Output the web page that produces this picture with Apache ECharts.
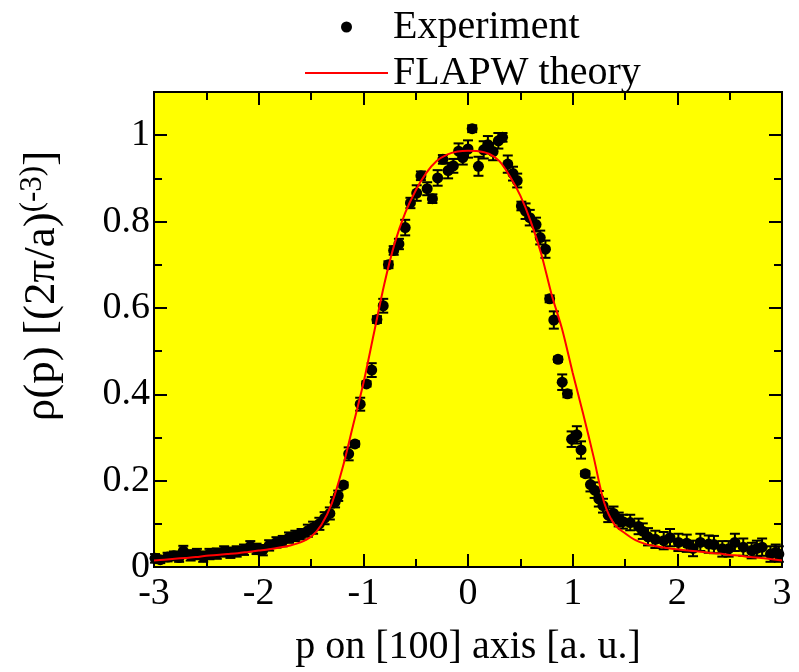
<!DOCTYPE html>
<html>
<head>
<meta charset="utf-8">
<script src="https://cdn.jsdelivr.net/npm/echarts@6/dist/echarts.min.js"></script>
<style>
  html, body { margin: 0; padding: 0; background: #fff; }
  #chart { width: 799px; height: 672px; }
</style>
</head>
<body>
<div id="chart"></div>
<script>
// Measured momentum density along [100]: momentum (a.u.), density, one-sigma error
const pX = [
  -2.99, -2.94, -2.87, -2.81, -2.76, -2.72, -2.65, -2.59, -2.53, -2.47,
  -2.40, -2.33, -2.27, -2.21, -2.14, -2.08, -2.02, -1.96, -1.90, -1.83,
  -1.77, -1.71, -1.65, -1.59, -1.53, -1.48, -1.42, -1.37, -1.32, -1.27,
  -1.24, -1.19, -1.14, -1.08, -1.03, -0.97, -0.92, -0.87, -0.81, -0.76,
  -0.71, -0.66, -0.60, -0.55, -0.49, -0.45, -0.39, -0.34, -0.29, -0.24,
  -0.19, -0.14, -0.09, -0.05, 0.00, 0.04, 0.10, 0.15, 0.19, 0.24,
  0.29, 0.33, 0.38, 0.43, 0.47, 0.51, 0.55, 0.59, 0.65, 0.69,
  0.74, 0.78, 0.82, 0.86, 0.90, 0.95, 0.99, 1.04, 1.08, 1.12,
  1.17, 1.21, 1.25, 1.29, 1.34, 1.39, 1.44, 1.48, 1.55, 1.63,
  1.67, 1.72, 1.79, 1.87, 1.93, 2.01, 2.09, 2.15, 2.22, 2.30,
  2.35, 2.43, 2.49, 2.55, 2.63, 2.71, 2.76, 2.81, 2.89, 2.94, 2.97
];
const rho = [
  0.020, 0.017, 0.023, 0.026, 0.022, 0.037, 0.027, 0.030, 0.024, 0.030,
  0.031, 0.036, 0.033, 0.036, 0.040, 0.048, 0.042, 0.039, 0.050, 0.057,
  0.060, 0.068, 0.072, 0.076, 0.084, 0.091, 0.100, 0.113, 0.124, 0.150,
  0.165, 0.190, 0.262, 0.285, 0.377, 0.424, 0.456, 0.573, 0.605, 0.700,
  0.733, 0.748, 0.786, 0.843, 0.866, 0.906, 0.876, 0.853, 0.901, 0.944,
  0.918, 0.929, 0.963, 0.948, 0.968, 1.015, 0.928, 0.966, 0.978, 0.962,
  0.987, 0.995, 0.933, 0.911, 0.895, 0.836, 0.824, 0.809, 0.793, 0.763,
  0.736, 0.621, 0.572, 0.481, 0.428, 0.401, 0.296, 0.306, 0.271, 0.216,
  0.191, 0.178, 0.158, 0.142, 0.120, 0.124, 0.110, 0.105, 0.103, 0.094,
  0.083, 0.070, 0.064, 0.061, 0.068, 0.057, 0.055, 0.043, 0.057, 0.053,
  0.052, 0.042, 0.042, 0.057, 0.046, 0.038, 0.043, 0.046, 0.030, 0.034, 0.030
];
const rhoErr = [
  0.010, 0.008, 0.010, 0.010, 0.010, 0.012, 0.012, 0.012, 0.012, 0.012,
  0.012, 0.012, 0.012, 0.012, 0.012, 0.012, 0.012, 0.012, 0.012, 0.012,
  0.012, 0.012, 0.012, 0.012, 0.014, 0.014, 0.014, 0.014, 0.014, 0.012,
  0.012, 0.006, 0.015, 0.006, 0.015, 0.006, 0.016, 0.008, 0.016, 0.008,
  0.010, 0.012, 0.018, 0.012, 0.018, 0.010, 0.015, 0.010, 0.018, 0.010,
  0.018, 0.016, 0.018, 0.016, 0.020, 0.008, 0.022, 0.020, 0.020, 0.020,
  0.018, 0.010, 0.020, 0.016, 0.016, 0.010, 0.018, 0.018, 0.016, 0.016,
  0.020, 0.008, 0.020, 0.006, 0.018, 0.008, 0.018, 0.020, 0.020, 0.006,
  0.016, 0.018, 0.018, 0.016, 0.016, 0.016, 0.016, 0.016, 0.018, 0.018,
  0.018, 0.020, 0.020, 0.020, 0.020, 0.020, 0.020, 0.018, 0.020, 0.020,
  0.020, 0.018, 0.018, 0.020, 0.020, 0.018, 0.018, 0.020, 0.018, 0.018, 0.018
];

// FLAPW calculation
const theoryX = [
  -3.0, -2.9, -2.8, -2.7, -2.6, -2.5, -2.4, -2.3, -2.2, -2.1,
  -2.0, -1.9, -1.8, -1.7, -1.6, -1.5, -1.4, -1.3, -1.2, -1.1,
  -1.0, -0.9, -0.8, -0.7, -0.6, -0.5, -0.4, -0.3, -0.2, -0.1,
  0.0, 0.1, 0.2, 0.3, 0.4, 0.5, 0.6, 0.7, 0.8, 0.9,
  1.0, 1.1, 1.2, 1.3, 1.4, 1.5, 1.6, 1.7, 1.8, 1.9,
  2.0, 2.1, 2.2, 2.3, 2.4, 2.5, 2.6, 2.7, 2.8, 2.9, 3.0
];
const theoryRho = [
  0.015, 0.017, 0.019, 0.021, 0.023, 0.026, 0.028, 0.030, 0.032, 0.035,
  0.038, 0.041, 0.045, 0.050, 0.057, 0.070, 0.098, 0.148, 0.228, 0.326,
  0.425, 0.540, 0.655, 0.750, 0.820, 0.872, 0.912, 0.940, 0.955, 0.962,
  0.964, 0.963, 0.957, 0.940, 0.905, 0.860, 0.800, 0.725, 0.630, 0.550,
  0.450, 0.355, 0.255, 0.150, 0.098, 0.078, 0.062, 0.053, 0.048, 0.044,
  0.041, 0.038, 0.036, 0.033, 0.031, 0.028, 0.026, 0.023, 0.021, 0.018, 0.015
];

const xTicks = { min: -3, max: 3, interval: 1 };
const yTicks = { min: 0, max: 1.1, interval: 0.2 };

const FONT = '"Liberation Serif", "Times New Roman", Times, serif';

const expData = pX.map((x, i) => [x, rho[i]]);
const errData = pX.map((x, i) => [x, rho[i] - rhoErr[i], rho[i] + rhoErr[i]]);
const theoryData = theoryX.map((x, i) => [x, theoryRho[i]]);

function axisCommon(showLabels) {
  return {
    type: 'value',
    axisLine: { show: true, onZero: false, lineStyle: { color: '#000', width: 2 } },
    axisTick: { show: true, inside: true, length: 13, lineStyle: { color: '#000', width: 2 } },
    minorTick: { show: true, splitNumber: 2, length: 8, lineStyle: { color: '#000', width: 2 } },
    splitLine: { show: false },
    minorSplitLine: { show: false },
    axisLabel: {
      show: showLabels,
      color: '#000',
      fontFamily: FONT,
      fontSize: 38
    }
  };
}

const chart = echarts.init(document.getElementById('chart'), null, { renderer: 'canvas' });

const xBottom = Object.assign(axisCommon(true), {
  position: 'bottom', min: xTicks.min, max: xTicks.max, interval: xTicks.interval,
  name: 'p on [100] axis [a. u.]',
  nameLocation: 'middle',
  nameGap: 60,
  nameTextStyle: { color: '#000', fontFamily: FONT, fontSize: 40 }
});
xBottom.axisLabel.margin = 8;

const xTop = Object.assign(axisCommon(false), {
  position: 'top', min: xTicks.min, max: xTicks.max, interval: xTicks.interval
});

const yLeft = Object.assign(axisCommon(true), {
  position: 'left', min: yTicks.min, max: yTicks.max, interval: yTicks.interval
});
yLeft.axisLabel.margin = 4;
yLeft.axisLabel.showMaxLabel = false;

const yRight = Object.assign(axisCommon(false), {
  position: 'right', min: yTicks.min, max: yTicks.max, interval: yTicks.interval
});

chart.setOption({
  animation: false,
  backgroundColor: '#fff',
  grid: {
    left: 154, right: 17, top: 92, bottom: 97,
    show: true, backgroundColor: '#ffff00', borderColor: '#000', borderWidth: 2
  },
  legend: {
    orient: 'vertical',
    left: 300,
    top: 2,
    itemWidth: 83,
    itemHeight: 11,
    itemGap: 6,
    textStyle: { color: '#000', fontFamily: FONT, fontSize: 40 },
    data: [
      { name: 'Experiment', icon: 'circle' },
      // thin bar icon: a plain red line sample
      { name: 'FLAPW theory', icon: 'path://M0 0H83V2H0Z' }
    ]
  },
  // vertical axis title with superscript exponent
  graphic: [{
    type: 'text',
    x: 42,
    y: 286,
    rotation: Math.PI / 2,
    style: {
      text: '{m|ρ(p) [(2π/a)}{s|(-3)}{m|]}',
      align: 'center',
      verticalAlign: 'middle',
      rich: {
        m: { fontFamily: FONT, fontSize: 45, fill: '#000', lineHeight: 50 },
        s: { fontFamily: FONT, fontSize: 31, fill: '#000', verticalAlign: 'top', lineHeight: 50 }
      }
    }
  }],
  xAxis: [xBottom, xTop],
  yAxis: [yLeft, yRight],
  series: [
    {
      name: 'Experiment',
      type: 'custom',
      xAxisIndex: 0, yAxisIndex: 0,
      data: errData,
      encode: { x: 0, y: [1, 2] },
      renderItem: function (params, api) {
        const lo = api.coord([api.value(0), api.value(1)]);
        const hi = api.coord([api.value(0), api.value(2)]);
        const w = 5;
        const style = { stroke: '#000', lineWidth: 2 };
        return {
          type: 'group',
          children: [
            { type: 'line', shape: { x1: lo[0], y1: lo[1], x2: hi[0], y2: hi[1] }, style: style },
            { type: 'line', shape: { x1: lo[0] - w, y1: lo[1], x2: lo[0] + w, y2: lo[1] }, style: style },
            { type: 'line', shape: { x1: hi[0] - w, y1: hi[1], x2: hi[0] + w, y2: hi[1] }, style: style }
          ]
        };
      },
      itemStyle: { color: '#000' },
      z: 3
    },
    {
      name: 'Experiment',
      type: 'scatter',
      data: expData,
      symbol: 'circle',
      symbolSize: 11,
      itemStyle: { color: '#000', opacity: 1 },
      z: 4
    },
    {
      name: 'FLAPW theory',
      type: 'line',
      data: theoryData,
      smooth: 0.3,
      symbol: 'none',
      lineStyle: { color: '#ff0000', width: 2 },
      itemStyle: { color: '#ff0000' },
      z: 5
    }
  ]
});
</script>
</body>
</html>
